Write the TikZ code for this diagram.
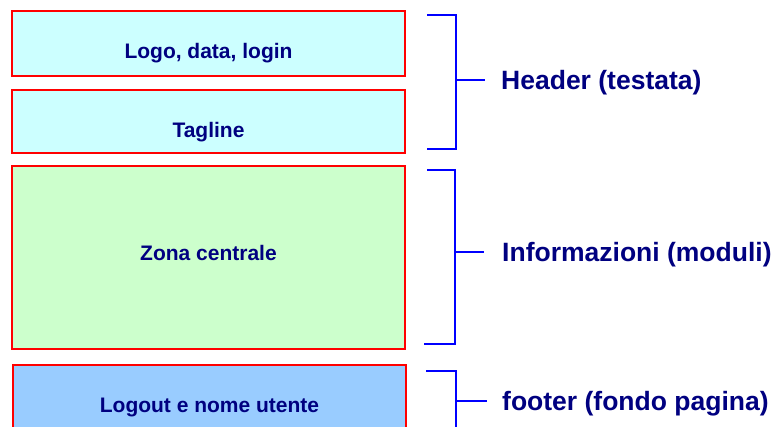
\documentclass[tikz,border=0pt]{standalone}
\usepackage{fontspec}
\setmainfont{Liberation Sans}
\usetikzlibrary{calc, positioning}
\definecolor{navy}{RGB}{0,0,128}
\definecolor{headfill}{RGB}{204,255,255}
\definecolor{mainfill}{RGB}{204,255,204}
\definecolor{footfill}{RGB}{153,204,255}
\definecolor{bracketblue}{RGB}{0,0,255}

\begin{document}
\begin{tikzpicture}[x=1pt, y=-1pt]

% TikZ styles
\tikzset{
  zone/.style={rectangle, draw=red, line width=1.5pt, inner sep=0pt, minimum width=393pt},
  zonetext/.style={text=navy, inner sep=0pt, font=\fontsize{21}{25}\selectfont\bfseries},
  bracket/.style={draw=bracketblue, line width=1.5pt},
  tag/.style={text=navy, inner sep=0pt, yshift=-2.5pt, font=\fontsize{26.5}{31}\selectfont\bfseries}
}

\clip (0,0) rectangle (781,427);

%==========================
% Zone della pagina
%==========================
\node[zone, fill=headfill, minimum height=65pt] (logo) at (208.5,43.5) {};
\node[zone, fill=headfill, minimum height=63pt] (tagline) at (208.5,121.5) {};
\node[zone, fill=mainfill, minimum height=183pt] (centrale) at (208.5,257.5) {};
\node[zone, fill=footfill, minimum height=80pt] (logout) at (209.5,405) {};

\node[zonetext] (logotext) at ($(logo.center)+(0,10)$) {Logo, data, login};
\node[zonetext] (taglinetext) at ($(tagline.center)+(0,10.5)$) {Tagline};
\node[zonetext] (centraletext) at ($(centrale.center)+(0,-5)$) {Zona centrale};
\node[zonetext] (logouttext) at ($(logout.center)+(0,2)$) {Logout e nome utente};

%==========================
% Parentesi a destra
%==========================
\coordinate (headtick) at (485,80);
\coordinate (infotick) at (484,252);
\coordinate (foottick) at (487,401);

\draw[bracket] (427,15) -- (456,15) -- (456,149) -- (427,149);
\draw[bracket] (456,80) -- (headtick);

\draw[bracket] (427,170) -- (455,170) -- (455,344) -- (424,344);
\draw[bracket] (455,252) -- (infotick);

\draw[bracket] (426,371) -- (456,371) -- (456,440);
\draw[bracket] (456,401) -- (foottick);

\node[tag, right=16pt of headtick, anchor=west] (header) {Header (testata)};
\node[tag, right=18pt of infotick, anchor=west] (info) {Informazioni (moduli)};
\node[tag, right=15pt of foottick, anchor=west] (footer) {footer (fondo pagina)};
\end{tikzpicture}
\end{document}
